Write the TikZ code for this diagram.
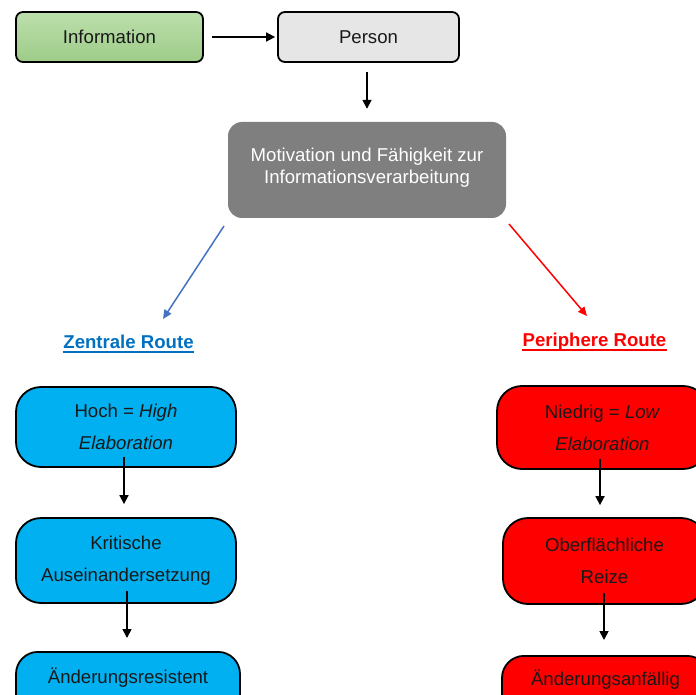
\documentclass[tikz,border=0pt]{standalone}
\usepackage{fontspec}
\setmainfont{Liberation Sans}
\usetikzlibrary{arrows.meta}
\definecolor{greentop}{RGB}{188,223,172}
\definecolor{greenbot}{RGB}{158,204,137}
\definecolor{persongray}{RGB}{230,230,230}
\definecolor{motivgray}{RGB}{127,127,127}
\definecolor{cblue}{RGB}{0,176,240}
\definecolor{cred}{RGB}{255,0,0}
\definecolor{zblue}{RGB}{0,112,192}
\definecolor{arrblue}{RGB}{68,114,196}
\begin{document}
\begin{tikzpicture}[x=1pt,y=-1pt,
  txt/.style={font=\fontsize{18.6}{32}\selectfont},
  topbox/.style={draw=black, line width=1.8pt, rounded corners=7pt, inner sep=0pt,
     minimum height=50pt, txt, text=black!90},
  bluebox/.style={draw=black, line width=1.8pt, fill=cblue, rounded corners=25pt,
     inner sep=0pt, align=center, txt, text=black!90},
  redbox/.style={draw=black, line width=1.8pt, fill=cred, rounded corners=25pt,
     inner sep=0pt, align=center, txt, text=black!90},
  arr/.style={-{Triangle[length=9pt,width=9pt]}, line width=1.7pt, black},
  route/.style={font=\fontsize{18.6}{22}\selectfont\bfseries, inner sep=0pt, anchor=base}
]
\useasboundingbox (0,0) rectangle (696,695);
\clip (0,0) rectangle (696,695);

% top row
\node[topbox, top color=greentop, bottom color=greenbot, minimum width=187pt] (info) at (109.5,37) {Information};
\node[topbox, fill=persongray, minimum width=181pt] (person) at (368.5,37) {Person};

% motivation
\node[fill=motivgray, rounded corners=14pt, minimum width=278pt, minimum height=96pt,
  inner sep=0pt, align=center, text=white, font=\fontsize{18.6}{22}\selectfont] (motiv) at (367,170)
  {Motivation und Fähigkeit zur\\Informationsverarbeitung\\[-14pt]};

% route labels
\node[route, text=zblue] (zr) at (128.5,348) {Zentrale Route};
\node[route, text=cred] (pr) at (594.5,346) {Periphere Route};
\draw[zblue, line width=1.5pt] ([yshift=-4pt]zr.base west) -- ([yshift=-4pt]zr.base east);
\draw[cred, line width=1.5pt] ([yshift=-4pt]pr.base west) -- ([yshift=-4pt]pr.base east);

% left column
\node[bluebox, minimum width=220pt, minimum height=80pt] (hoch) at (126,427)
  {Hoch = \textit{High}\\\textit{Elaboration}};
\node[bluebox, minimum width=220pt, minimum height=85pt] (krit) at (126,560.5)
  {Kritische\\Auseinandersetzung};
\node[bluebox, rounded corners=22pt, minimum width=224pt, text height=32pt, text depth=40pt,
  anchor=north] (resist) at (128,651) {Änderungsresistent};

% right column
\node[redbox, minimum width=211pt, minimum height=83pt] (niedrig) at (602.5,427.5)
  {Niedrig = \textit{Low}\\\textit{Elaboration}};
\node[redbox, minimum width=203pt, minimum height=86pt] (ober) at (604.5,561)
  {Oberflächliche\\Reize};
\node[redbox, rounded corners=22pt, minimum width=207pt, text height=30pt, text depth=40pt,
  anchor=north] (anfaellig) at (605.5,655) {Änderungsanfällig};

% connectors
\draw[arr] ([xshift=8pt]info.east) -- ([xshift=-2pt]person.west);
\draw[arr] ([xshift=-1.5pt,yshift=-9pt]person.south) -- ([yshift=13pt]motiv.north);

\coordinate (bstart) at (224,226);
\coordinate (bend) at (163,319);
\coordinate (rstart) at (509,224);
\coordinate (rend) at (587,316);
\draw[-{Triangle[length=9pt,width=8pt]}, line width=1.5pt, arrblue] (bstart) -- (bend);
\draw[-{Triangle[length=9pt,width=8pt]}, line width=1.5pt, cred] (rstart) -- (rend);

\draw[arr] ([xshift=-2pt,yshift=11pt]hoch.south) -- ([xshift=-2pt,yshift=13pt]krit.north);
\draw[arr] ([xshift=1pt,yshift=13pt]krit.south) -- ([xshift=-1pt,yshift=13pt]resist.north);
\draw[arr] ([xshift=-2.5pt,yshift=11pt]niedrig.south) -- ([xshift=-4.5pt,yshift=12pt]ober.north);
\draw[arr] ([xshift=-0.5pt,yshift=12pt]ober.south) -- ([xshift=-1.5pt,yshift=15pt]anfaellig.north);
\end{tikzpicture}
\end{document}
